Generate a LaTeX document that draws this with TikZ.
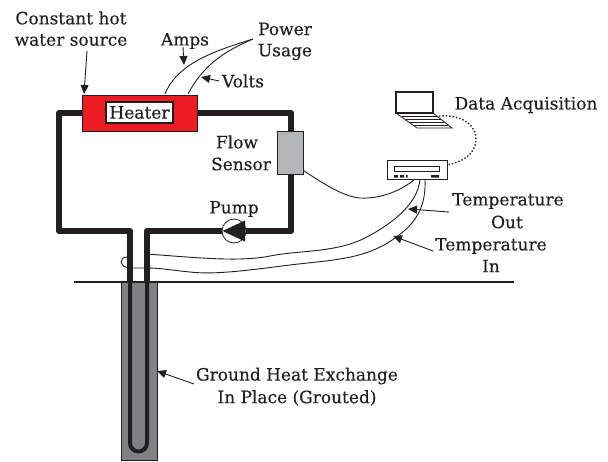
\documentclass[tikz,border=0pt]{standalone}
\usepackage{fontspec}
\setmainfont{DejaVu Serif}[FakeBold=0.25]
\usetikzlibrary{arrows.meta}
\definecolor{heaterred}{HTML}{ED1C24}
\definecolor{grout}{HTML}{808085}
\definecolor{sensorgray}{HTML}{B4B5B8}
\definecolor{ink}{HTML}{231F20}
\tikzset{
  lbl/.style={font=\fontsize{17}{19}\selectfont,text=ink,inner sep=0pt,align=center},
  pipe/.style={draw=ink,line width=6pt,line join=round},
  wire/.style={draw=ink,line width=0.9pt},
  pointer/.style={draw=ink,line width=0.9pt,-{Triangle[length=9pt,width=8pt]}},
  box/.style={draw=ink,line width=1pt,inner sep=0pt,minimum width=0pt}
}
\begin{document}
\begin{tikzpicture}[x=1pt,y=-1pt]
\useasboundingbox (0,0) rectangle (608,461);
% grout column
\node[draw=ink,line width=0.8pt,fill=grout,minimum width=36pt,minimum height=178pt,inner sep=0pt] (grout) at (139,371) {};
% pipe loop
\coordinate (hl) at (82,113); \coordinate (hr) at (197,113);
\draw[pipe] (hl) -- (59,113) -- (59,231) -- (130,231) -- (130,282);
\draw[pipe] (hr) -- (291,113) -- (291,231) -- (147,231) -- (147,282);
% u-tube
\draw[draw=ink,line width=4pt] (130,282) -- (130,443) arc[start angle=180,end angle=360,radius=8.5pt] -- (147,282);
% ground line
\coordinate (g1) at (74,282); \coordinate (g2) at (514,282);
\draw[draw=ink,line width=2pt] (g1) -- (g2);
% heater
\node[box,draw=ink,fill=heaterred,minimum width=115pt,minimum height=36pt] (heater) at (139.5,113) {};
\node[box,fill=white,line width=1.2pt,minimum width=67pt,minimum height=21pt,lbl,draw=ink] (heatertxt) at (139.5,112.5) {Heater};
% flow sensor
\node[box,fill=sensorgray,line width=0.8pt,minimum width=26pt,minimum height=43pt] (flow) at (290,152.5) {};
% pump
\node[circle,draw=ink,fill=white,line width=0.8pt,minimum size=24pt,inner sep=0pt] (pump) at (234,231) {};
\fill[ink] (222.5,231) -- (245,220.5) -- (245,241.5) -- cycle;
% recorder
\node[box,fill=white,line width=0.8pt,minimum width=60pt,minimum height=19pt] (rec) at (417,169.5) {};
\node[box,line width=0.7pt,minimum width=45pt,minimum height=5pt] (slot) at (416.5,168.5) {};
\fill[ink] (394,175) rectangle (398,177.5) (400,175) rectangle (404,177.5) (406,175) rectangle (407.5,177.5) (431,175) rectangle (439,177.5);
% laptop
\node[box,fill=white,line width=1.4pt,minimum width=37pt,minimum height=21pt] (screen) at (414.5,102.5) {};
\draw[ink,line width=0.8pt] (396,113) -- (433,113) -- (452,128) -- (417,128) -- cycle;
\draw[ink,line width=0.6pt] (402,116) -- (437,116) (406,119) -- (441,119) (410,122) -- (444,122) (413,125) -- (448,125);
\coordinate (lapend) at (439,116);
\coordinate (recend) at (447,165);
\draw[draw=ink,line width=1.4pt,dotted] (lapend) .. controls (465,114) and (477,128) .. (476,140) .. controls (475,155) and (462,162) .. (recend);
% wires
\coordinate (pw) at (253,39);
\coordinate (ampS) at (165,94); \coordinate (voltS) at (188,94);
\draw[wire] (ampS) .. controls (178,62) and (218,50) .. (pw);
\draw[wire] (voltS) .. controls (205,62) and (228,50) .. (pw);
\coordinate (ra) at (415,179); \coordinate (rb) at (420,179); \coordinate (rc) at (425,179);
\draw[wire] (flow.south east) ++(0,-4) .. controls (325,185) and (345,197) .. (360,198) .. controls (382,199) and (402,190) .. (ra);
\coordinate (loopA) at (147,254);
\coordinate (loopB) at (147,268);
\draw[wire] (rb) .. controls (418,205) and (390,225) .. (365,238) .. controls (335,253) and (300,250) .. (270,256) .. controls (240,262) and (200,258) .. (loopA);
\draw[wire] (rc) .. controls (426,205) and (418,222) .. (395,238) .. controls (365,260) and (330,260) .. (290,265) .. controls (250,270) and (215,275) .. (190,272) .. controls (170,270) and (160,268) .. (loopB);
\draw[wire] (loopB) -- (130,268) .. controls (120,268) and (118,257) .. (127,257) -- (130,257);
% labels
\node[lbl] (t1) at (71,18) {Constant hot};
\node[lbl] (t2) at (71,40) {water source};
\node[lbl] (amps) at (185,41) {Amps};
\node[lbl] (power) at (285,29) {Power};
\node[lbl] (usage) at (285,52) {Usage};
\node[lbl] (volts) at (243,81) {Volts};
\node[lbl] (flow1) at (237,142) {Flow};
\node[lbl] (flow2) at (241,164) {Sensor};
\node[lbl] (pumpl) at (234,209) {Pump};
\node[lbl] (daq) at (526,105) {Data Acquisition};
\node[lbl] (to1) at (508,201) {Temperature};
\node[lbl] (to2) at (507,222) {Out};
\node[lbl] (ti1) at (491,246) {Temperature};
\node[lbl] (ti2) at (491,266) {In};
\node[lbl] (ge1) at (297,376) {Ground Heat Exchange};
\node[lbl] (ge2) at (297,398) {In Place (Grouted)};
% pointers
\coordinate (a1) at (84,94); \draw[pointer] (87,51) -- (a1);
\coordinate (a2) at (184,65); \draw[pointer] (183,47) -- (a2);
\coordinate (a3) at (201,77); \draw[pointer] (219,81) -- (a3);
\coordinate (a4) at (408,209); \draw[pointer] (449,212) -- (a4);
\coordinate (a5) at (393,236); \draw[pointer] (433,251) -- (a5);
\coordinate (a6) at (157,371); \draw[pointer] (194,384) -- (a6);
\end{tikzpicture}
\end{document}
